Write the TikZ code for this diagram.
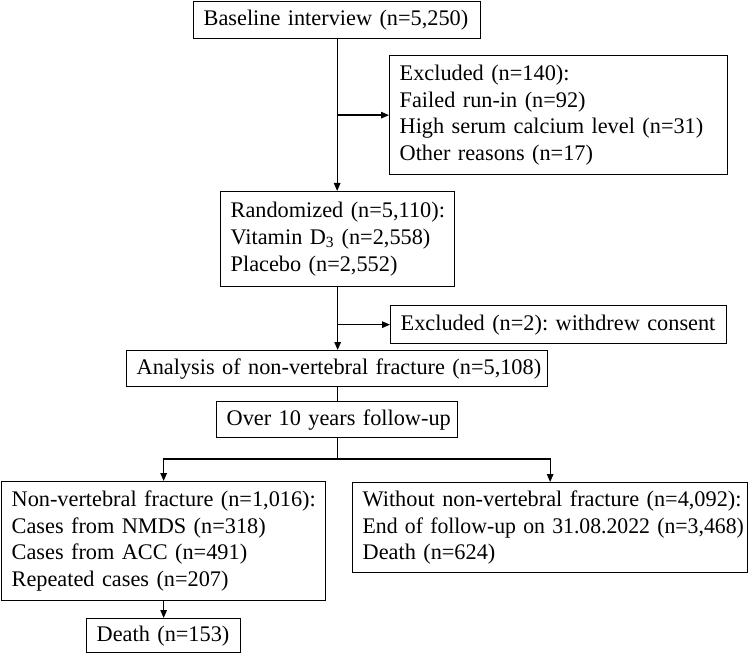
\documentclass[tikz,border=0pt]{standalone}
\usepackage{fontspec}
\usepackage{graphicx}
\setmainfont{Liberation Serif}
\usetikzlibrary{arrows.meta}
\frenchspacing
\newcommand{\boxfont}{\fontsize{22.3}{26.6}\selectfont\spaceskip=0.2em plus 0.05em\relax}
\begin{document}
\begin{tikzpicture}[x=1pt,y=-1pt,
  box/.style={draw, line width=1.3pt, anchor=north west, inner xsep=10pt, inner ysep=0pt,
    align=left, font=\boxfont},
  arr/.style={line width=1.3pt, -{Triangle[length=8pt,width=6.5pt]}},
  con/.style={line width=1.3pt}]
\useasboundingbox (0,0) rectangle (750,655);
\node[box, minimum width=287pt, minimum height=37pt, text width=267pt] (b1) at (193,1)
  {\mbox{Baseline interview (n=5,250)}};
\node[box, minimum width=338pt, minimum height=119pt, text width=318pt] (ex1) at (389,55)
  {\mbox{Excluded (n=140):}\\ \mbox{Failed run-in (n=92)}\\ \mbox{High serum calcium level (n=31)}\\ \mbox{Other reasons (n=17)}};
\node[box, minimum width=234pt, minimum height=95pt, text width=214pt] (rnd) at (220,191)
  {\mbox{Randomized (n=5,110):}\\ \mbox{Vitamin D\textsubscript{3} (n=2,558)}\\ \mbox{Placebo (n=2,552)}};
\node[box, minimum width=336pt, minimum height=38pt, text width=316pt] (ex2) at (390,305)
  {\mbox{Excluded (n=2): withdrew consent}};
\node[box, minimum width=421pt, minimum height=36pt, text width=401pt] (ana) at (126,350)
  {\mbox{Analysis of non-vertebral fracture (n=5,108)}};
\node[box, minimum width=241pt, minimum height=36pt, text width=221pt] (ovr) at (216,401)
  {\mbox{Over 10 years follow-up}};
\node[box, minimum width=324pt, minimum height=119pt, text width=304pt] (nvf) at (1,481)
  {\mbox{Non-vertebral fracture (n=1,016):}\\ \mbox{Cases from NMDS (n=318)}\\ \mbox{Cases from ACC (n=491)}\\ \mbox{Repeated cases (n=207)}};
\node[box, minimum width=395pt, minimum height=90pt, text width=375pt] (wnf) at (352,482)
  {\mbox{Without non-vertebral fracture (n=4,092):}\\ \scalebox{0.975}[1]{End of follow-up on 31.08.2022 (n=3,468)}\\ \mbox{Death (n=624)}};
\node[box, minimum width=154pt, minimum height=34pt, text width=134pt] (dth) at (86,618)
  {\mbox{Death (n=153)}};
\coordinate (split) at (336,459);
\draw[arr] (b1.south) -- (b1.south |- rnd.north);
\draw[arr] (b1.south |- ex1.west) -- (ex1.west);
\draw[arr] (rnd.south) -- (rnd.south |- ana.north);
\draw[arr] (rnd.south |- ex2.west) -- (ex2.west);
\draw[con] (ana.south) -- (ana.south |- ovr.north);
\draw[con] (ovr.south) -- (ovr.south |- split);
\draw[arr] (ovr.south |- split) -| (nvf.north);
\draw[arr] (ovr.south |- split) -| (wnf.north);
\draw[arr] (nvf.south) -- (nvf.south |- dth.north);
\end{tikzpicture}
\end{document}
